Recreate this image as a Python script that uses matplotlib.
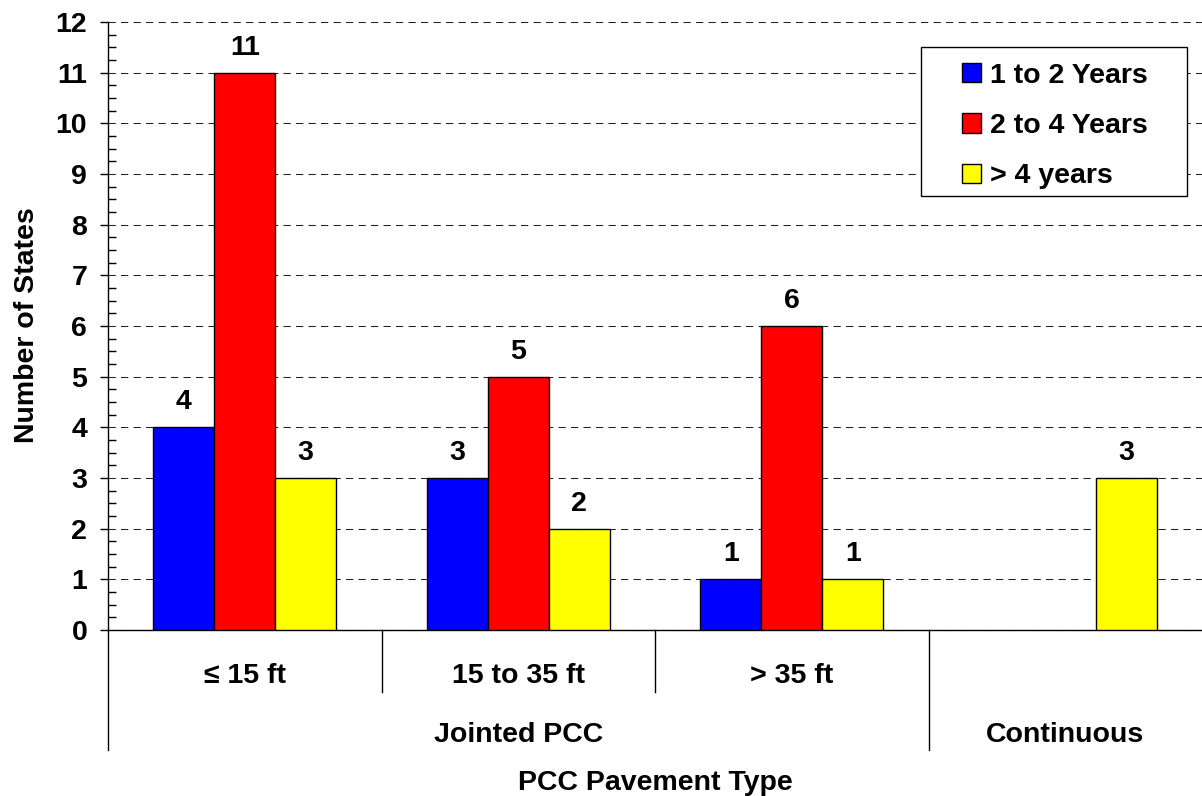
import matplotlib
matplotlib.use("Agg")
import matplotlib.pyplot as plt
from matplotlib.patches import Rectangle, Patch
from matplotlib.lines import Line2D
from matplotlib.transforms import blended_transform_factory
from matplotlib.ticker import MultipleLocator
import numpy as np

plt.rcParams['font.family'] = ['Liberation Sans', 'DejaVu Sans']
plt.rcParams['font.weight'] = 'bold'

# ---- data ----
categories = ["\u2264 15 ft", "15 to 35 ft", "> 35 ft", ""]
groups = ["Jointed PCC", "Continuous"]
series_names = ["1 to 2 Years", "2 to 4 Years", "> 4 years"]
yr_1_2 = [4, 3, 1, 0]
yr_2_4 = [11, 5, 6, 0]
yr_gt4 = [3, 2, 1, 3]
colors = ["#0000FF", "#FF0000", "#FFFF00"]
x_title = "PCC Pavement Type"
y_title = "Number of States"

FS = 20.5
W, H = 1202, 796
fig = plt.figure(figsize=(W / 100, H / 100), dpi=100)
ax = fig.add_axes([108 / W, 1 - 630 / H, 1094 / W, 608 / H])

x = np.arange(len(categories))
bw = 0.223
offsets = [-bw, 0.0, bw]
for vals, off, col in zip([yr_1_2, yr_2_4, yr_gt4], offsets, colors):
    for xi, v in zip(x, vals):
        if v <= 0:
            continue
        ax.bar(xi + off, v, width=bw, color=col, edgecolor='black',
               linewidth=1.0, zorder=3)
        ax.annotate(str(v), (xi + off, v), xytext=(0, 13),
                    textcoords='offset points', ha='center', va='baseline',
                    fontsize=FS, fontweight='bold', zorder=4)

ax.set_xlim(-0.5, len(categories) - 0.5)
ax.set_ylim(0, 12)
ax.yaxis.set_major_locator(MultipleLocator(1))
ax.yaxis.set_minor_locator(MultipleLocator(0.25))
ax.tick_params(axis='y', which='major', direction='out', length=6, width=1,
               labelsize=FS, pad=9)
ax.tick_params(axis='y', which='minor', direction='in', length=6, width=1)
ax.set_xticks([])
for lab in ax.get_yticklabels():
    lab.set_fontweight('bold')

ax.yaxis.grid(True, which='major', color='#222222', linewidth=0.75,
              linestyle=(0, (7, 5)), zorder=1)
ax.set_axisbelow(True)
ax.spines['top'].set_visible(False)
ax.spines['right'].set_visible(False)
ax.spines['left'].set_linewidth(1.0)
ax.spines['bottom'].set_linewidth(1.0)

# category separators and labels
tr = blended_transform_factory(ax.transData, ax.transAxes)
axh = 608.0
long_y = -(750 - 630) / axh
short_y = -(692 - 630) / axh
for xs, yb in [(-0.5, long_y), (0.5, short_y), (1.5, short_y), (2.5, long_y)]:
    ax.add_line(Line2D([xs, xs], [0, yb], transform=tr, color='black',
                       linewidth=1.0, clip_on=False))
cat_base = -(683 - 630) / axh
for xi, c in zip(x, categories):
    if c:
        ax.text(xi, cat_base, c, transform=tr, ha='center', va='baseline',
                fontsize=FS, fontweight='bold')
grp_base = -(742 - 630) / axh
ax.text(1.0, grp_base, groups[0], transform=tr, ha='center', va='baseline',
        fontsize=FS, fontweight='bold')
ax.text(3.0, grp_base, groups[1], transform=tr, ha='center', va='baseline',
        fontsize=FS, fontweight='bold')

fig.text(655 / W, 1 - 790 / H, x_title, ha='center', va='baseline',
         fontsize=FS, fontweight='bold')
fig.text(34 / W, 1 - 325 / H, y_title, rotation=90, rotation_mode='anchor',
         ha='center', va='baseline', fontsize=FS, fontweight='bold')

# legend with manual frame
ax.add_patch(Rectangle(((921 - 108) / 1094, (630 - 196) / axh),
                       (1187 - 921) / 1094, (196 - 47) / axh,
                       transform=ax.transAxes, facecolor='white',
                       edgecolor='black', linewidth=1.0, zorder=5,
                       clip_on=False))
handles = [Patch(facecolor=c, edgecolor='black', linewidth=1.0) for c in colors]
leg = ax.legend(handles, series_names, loc='center',
                bbox_to_anchor=((1055 - 108) / 1094, (630 - 126) / axh),
                frameon=False, fontsize=FS, handlelength=0.67,
                handleheight=0.67, handletextpad=0.3, labelspacing=0.85,
                borderpad=0.0)
leg.set_zorder(6)
for t in leg.get_texts():
    t.set_fontweight('bold')

fig.savefig("out.png", dpi=100)
